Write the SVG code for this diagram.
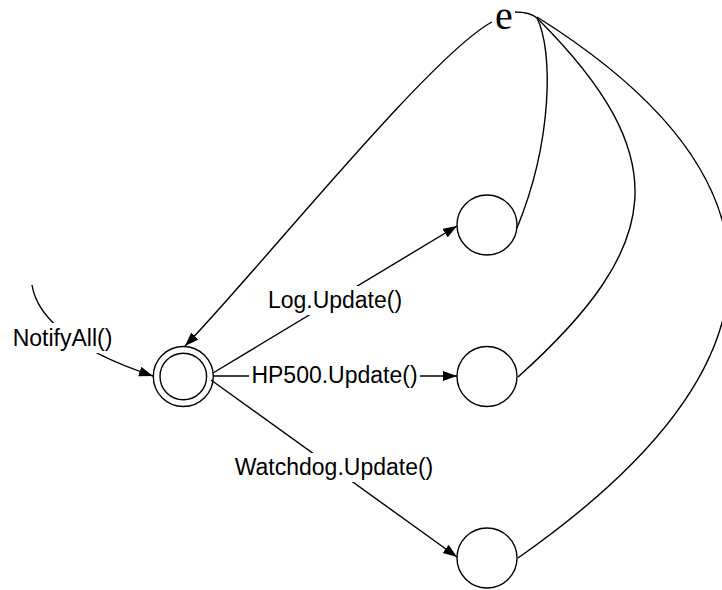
<svg xmlns="http://www.w3.org/2000/svg" width="722" height="590" viewBox="0 0 722 590">
  <style>
    .state { fill: none; stroke: #000; stroke-width: 1.4; }
    .edge { fill: none; stroke: #000; stroke-width: 1.4; }
    .arrow { marker-end: url(#head); }
    .lbl { font-family: "Liberation Sans", Arial, sans-serif; font-size: 23px; fill: #000; text-anchor: middle; }
    .lblbg { fill: #fff; stroke: none; }
    .eps { font-family: "Liberation Serif", "Times New Roman", serif; font-size: 40px; fill: #000; text-anchor: middle; }
  </style>
  <defs>
    <marker id="head" markerUnits="userSpaceOnUse" markerWidth="15" markerHeight="11" refX="14" refY="5" orient="auto">
      <path d="M0,0 L14,5 L0,10 z" fill="#000"/>
    </marker>
  </defs>
  <rect width="722" height="590" fill="#fff"/>

  <!-- transitions -->
  <g id="connectors">
    <!-- entry -->
    <path class="edge arrow" d="M32,285 C36,310 60,345 153,376"/>
    <!-- return to start -->
    <path class="edge arrow" d="M492,22 C430,55 250,280 185,346"/>
    <!-- outgoing updates -->
    <path class="edge arrow" d="M213,373 L457,226"/>
    <path class="edge arrow" d="M213,376 L457,376"/>
    <path class="edge arrow" d="M211,380 L457,557"/>
    <!-- epsilon returns -->
    <path class="edge" d="M515,12 Q530,12 537,18"/>
    <path class="edge" d="M537,18 C553,50 553,140 517,228"/>
    <path class="edge" d="M537,18 C676,157 665,245 518,377"/>
    <path class="edge" d="M537,17 C744,147 846,328 518,558"/>
  </g>

  <!-- labels -->
  <g id="labels">
    <g id="lbl-notify">
      <rect class="lblbg" x="12" y="323" width="102" height="30"/>
      <text class="lbl" x="62.5" y="346">NotifyAll()</text>
    </g>
    <g id="lbl-log">
      <rect class="lblbg" x="266" y="286" width="138" height="29"/>
      <text class="lbl" x="335" y="308">Log.Update()</text>
    </g>
    <g id="lbl-hp500">
      <rect class="lblbg" x="249" y="362" width="171" height="28"/>
      <text class="lbl" x="334.5" y="383">HP500.Update()</text>
    </g>
    <g id="lbl-watchdog">
      <rect class="lblbg" x="233" y="453" width="202" height="29"/>
      <text class="lbl" x="334" y="475">Watchdog.Update()</text>
    </g>
  </g>

  <!-- states -->
  <g id="start">
    <circle class="state" cx="183.3" cy="376.5" r="30"/>
    <circle class="state" cx="183.3" cy="376.5" r="23.3"/>
  </g>
  <g id="log">
    <circle class="state" cx="487" cy="225" r="30"/>
  </g>
  <g id="hp500">
    <circle class="state" cx="487" cy="376.5" r="30"/>
  </g>
  <g id="watchdog">
    <circle class="state" cx="487" cy="558" r="30"/>
  </g>
  <g id="epsilon">
    <text class="eps" x="504" y="29">e</text>
  </g>
</svg>
